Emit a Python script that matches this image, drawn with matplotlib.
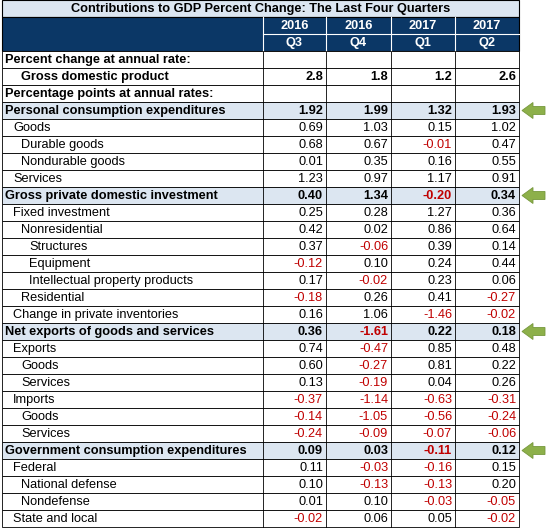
import matplotlib
matplotlib.use("Agg")
import matplotlib.pyplot as plt
from matplotlib.patches import Rectangle, Polygon

TITLE = "Contributions to GDP Percent Change: The Last Four Quarters"
YEARS = ["2016", "2016", "2017", "2017"]
QUARTERS = ["Q3", "Q4", "Q1", "Q2"]

# (label, indent level, bold, highlighted, values)
ROWS = [
    ("Percent change at annual rate:", 0, True, False, None),
    ("Gross domestic product", 2, True, False, [2.8, 1.8, 1.2, 2.6]),
    ("Percentage points at annual rates:", 0, True, False, None),
    ("Personal consumption expenditures", 0, True, True, [1.92, 1.99, 1.32, 1.93]),
    ("Goods", 1, False, False, [0.69, 1.03, 0.15, 1.02]),
    ("Durable goods", 2, False, False, [0.68, 0.67, -0.01, 0.47]),
    ("Nondurable goods", 2, False, False, [0.01, 0.35, 0.16, 0.55]),
    ("Services", 1, False, False, [1.23, 0.97, 1.17, 0.91]),
    ("Gross private domestic investment", 0, True, True, [0.40, 1.34, -0.20, 0.34]),
    ("Fixed investment", 1, False, False, [0.25, 0.28, 1.27, 0.36]),
    ("Nonresidential", 2, False, False, [0.42, 0.02, 0.86, 0.64]),
    ("Structures", 3, False, False, [0.37, -0.06, 0.39, 0.14]),
    ("Equipment", 3, False, False, [-0.12, 0.10, 0.24, 0.44]),
    ("Intellectual property products", 3, False, False, [0.17, -0.02, 0.23, 0.06]),
    ("Residential", 2, False, False, [-0.18, 0.26, 0.41, -0.27]),
    ("Change in private inventories", 1, False, False, [0.16, 1.06, -1.46, -0.02]),
    ("Net exports of goods and services", 0, True, True, [0.36, -1.61, 0.22, 0.18]),
    ("Exports", 1, False, False, [0.74, -0.47, 0.85, 0.48]),
    ("Goods", 2, False, False, [0.60, -0.27, 0.81, 0.22]),
    ("Services", 2, False, False, [0.13, -0.19, 0.04, 0.26]),
    ("Imports", 1, False, False, [-0.37, -1.14, -0.63, -0.31]),
    ("Goods", 2, False, False, [-0.14, -1.05, -0.56, -0.24]),
    ("Services", 2, False, False, [-0.24, -0.09, -0.07, -0.06]),
    ("Government consumption expenditures", 0, True, True, [0.09, 0.03, -0.11, 0.12]),
    ("Federal", 1, False, False, [0.11, -0.03, -0.16, 0.15]),
    ("National defense", 2, False, False, [0.10, -0.13, -0.13, 0.20]),
    ("Nondefense", 2, False, False, [0.01, 0.10, -0.03, -0.05]),
    ("State and local", 1, False, False, [-0.02, 0.06, 0.05, -0.02]),
]

plt.rcParams["font.family"] = ["Liberation Sans", "DejaVu Sans"]

W, H = 546, 528
fig = plt.figure(figsize=(W / 100, H / 100), dpi=100)
ax = fig.add_axes([0, 0, 1, 1])
ax.set_xlim(0, W)
ax.set_ylim(H, 0)
ax.axis("off")

X0, X1 = 2, 519
COLS = [263, 326, 391, 455, 519]
RH = 17
NAVY = "#0b3766"
LIGHT = "#dce6f1"
RED = "#c00000"
FS = 9.2

# title row
ax.add_patch(Rectangle((X0, 0), X1 - X0, RH, fc=LIGHT, ec="black", lw=0.8))
ax.text((X0 + X1) / 2, RH / 2 + 0.5, TITLE, ha="center", va="center",
        fontsize=FS, fontweight="bold", color="black")

# header
ax.add_patch(Rectangle((X0, RH), X1 - X0, 2 * RH, fc=NAVY, ec="black", lw=0.8))
for i in range(4):
    cx = (COLS[i] + COLS[i + 1]) / 2
    ax.text(cx, RH * 1.5 + 0.5, YEARS[i], ha="center", va="center",
            fontsize=FS, fontweight="bold", color="white")
    ax.text(cx, RH * 2.5 + 0.5, QUARTERS[i], ha="center", va="center",
            fontsize=FS, fontweight="bold", color="white")
for x in COLS[:-1]:
    ax.plot([x, x], [RH, 3 * RH], color="white", lw=0.8)
ax.plot([COLS[0], X1], [2 * RH, 2 * RH], color="white", lw=0.8)

y0 = 3 * RH
for r, (label, ind, bold, hl, vals) in enumerate(ROWS):
    top = y0 + r * RH
    fc = LIGHT if hl else "white"
    ax.add_patch(Rectangle((X0, top), X1 - X0, RH, fc=fc, ec="black", lw=0.6))
    for x in COLS[:-1]:
        ax.plot([x, x], [top, top + RH], color="black", lw=0.6)
    ax.text(X0 + 3 + ind * 8, top + RH / 2 + 0.5, label, ha="left", va="center",
            fontsize=FS, fontweight="bold" if bold else "normal")
    if vals:
        for i, v in enumerate(vals):
            txt = f"{v:.1f}" if r == 1 else f"{v:.2f}"
            ax.text(COLS[i + 1] - 3, top + RH / 2 + 0.5, txt, ha="right",
                    va="center", fontsize=FS,
                    fontweight="bold" if bold else "normal",
                    color=RED if v < 0 else "black")
    if hl:
        cy = top + RH / 2
        ax.add_patch(Polygon([(522, cy), (533, cy - 8), (533, cy - 4),
                              (545, cy - 4), (545, cy + 4),
                              (533, cy + 4), (533, cy + 8)],
                             closed=True, fc="#8db04a", ec="#76983c", lw=0.6))

fig.savefig("out.png", dpi=100)
